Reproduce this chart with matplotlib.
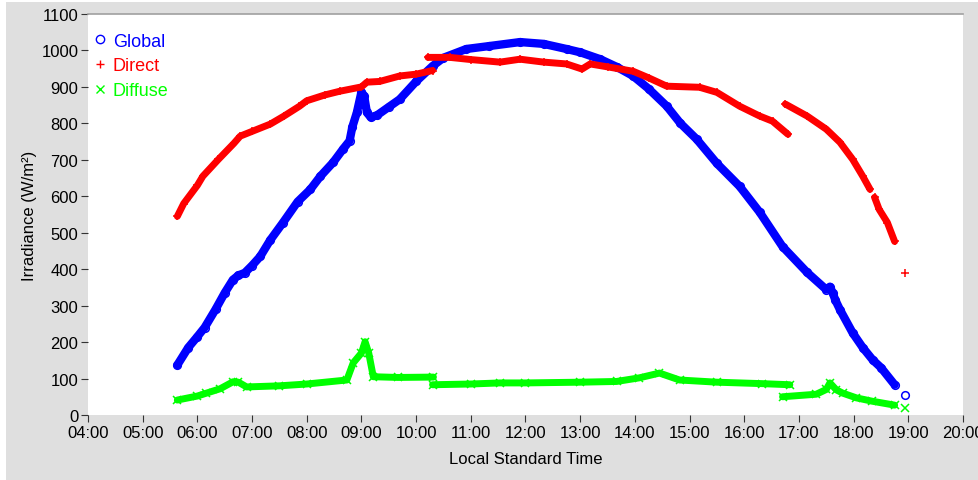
import numpy as np
import pandas as pd
import matplotlib
matplotlib.use("Agg")
import matplotlib.pyplot as plt
from matplotlib.lines import Line2D
from matplotlib.patches import Rectangle

# None marks a break in the record
global_times = ["05:38", "05:50", "06:00", "06:08", "06:20", "06:30", "06:39", "06:45",
                "06:52", "07:00", "07:09", "07:20", "07:34", "07:50", "08:04", "08:15",
                "08:29", "08:40", "08:47", "08:50", "08:55", "09:00", "09:03", "09:06",
                "09:10", "09:17", "09:30", "09:42", "10:00", "10:18", "10:30", "10:55",
                "11:20", "11:54", "12:20", "12:45", "13:00", "13:22", "13:40", "13:58",
                "14:15", "14:35", "14:50", "15:08", "15:30", "15:55", "16:17", "16:42",
                "17:09", "17:30", "17:34", "17:37", "17:40", "17:45", "17:59", "18:10",
                "18:21", "18:30", "18:45", None, "18:56"]
global_vals = [137, 185, 215, 240, 290, 335, 371, 383,
               390, 410, 435, 480, 528, 585, 619, 655,
               693, 730, 752, 790, 830, 886, 875, 830,
               817, 822, 845, 866, 915, 957, 980, 1004,
               1012, 1023, 1018, 1004, 995, 976, 955, 930,
               895, 847, 800, 756, 690, 627, 556, 462,
               391, 344, 352, 335, 315, 289, 225, 185,
               151, 130, 83, None, 55]

direct_times = ["05:38", "05:45", "06:00", "06:06", "06:23", "06:40", "06:47", "07:00",
                "07:20", "07:35", "07:52", "08:00", "08:20", "08:36", "09:00", "09:06",
                "09:20", "09:42", "10:00", "10:18", None,
                "10:13", "10:37", "11:00", "11:32", "11:54", "12:20", "12:45", "13:02",
                "13:11", "13:30", "13:58", "14:15", "14:35", "15:11", "15:30", "15:55",
                "16:17", "16:31", "16:48", None,
                "16:45", "17:09", "17:30", "17:45", "17:59", "18:10", "18:18", None,
                "18:23", "18:28", "18:37", "18:45", None, "18:56"]
direct_vals = [545, 580, 630, 655, 701, 745, 765, 778,
               798, 820, 847, 862, 878, 888, 900, 913,
               915, 930, 935, 945, None,
               981, 981, 975, 968, 976, 968, 963, 949,
               963, 955, 943, 925, 902, 899, 885, 847,
               820, 806, 770, None,
               853, 820, 784, 748, 701, 655, 619, None,
               597, 564, 528, 476, None, 390]

diffuse_times = ["05:38", "06:00", "06:10", "06:25", "06:39", "06:45", "06:54", "07:30",
                 "08:00", "08:44", "08:51", "09:00", "09:04", "09:08", "09:13", "09:40",
                 "10:19", None,
                 "10:18", "11:00", "11:32", "12:00", "13:00", "13:40", "14:05", "14:27",
                 "14:49", "15:30", "16:20", "16:50", None,
                 "16:42", "17:19", "17:30", "17:34", "17:41", "17:48", "18:03", "18:20",
                 "18:45", None, "18:56"]
diffuse_vals = [41, 52, 60, 72, 91, 90, 77, 80,
                85, 96, 143, 170, 201, 170, 105, 103,
                104, None,
                83, 85, 88, 88, 90, 92, 102, 115,
                96, 90, 86, 83, None,
                50, 57, 70, 88, 69, 60, 47, 38,
                27, None, 19]

hour_ticks = list(range(4, 21))
tick_labels = [f"{h:02d}:00" for h in hour_ticks]


def to_hours(times):
    return np.array([np.nan if t is None else
                     pd.to_timedelta(t + ":00").total_seconds() / 3600 for t in times])


def to_vals(vals):
    return np.array([np.nan if v is None else v for v in vals], dtype=float)


plt.rcParams["font.family"] = ["Liberation Sans", "DejaVu Sans"]

fig = plt.figure(figsize=(9.79, 4.81), dpi=100)
fig.patch.set_facecolor("white")
fig.patches.append(Rectangle((6 / 979, 0), 1, 1 - 3 / 481, transform=fig.transFigure,
                             facecolor="#dfdfdf", edgecolor="none", zorder=-10))
ax = fig.add_axes([88 / 979, 1 - 416 / 481, 875 / 979, 401 / 481])
ax.set_facecolor("white")

series = [
    ("Global", global_times, global_vals, "#0000ff", "o", 6.0),
    ("Direct", direct_times, direct_vals, "#ff0000", "+", 5.0),
    ("Diffuse", diffuse_times, diffuse_vals, "#00ff00", "x", 5.0),
]
handles = []
for name, times, vals, colour, marker, lw in series:
    ax.plot(to_hours(times), to_vals(vals), color=colour, linewidth=lw,
            solid_capstyle="round", solid_joinstyle="round")
    ax.plot(to_hours(times), to_vals(vals), linestyle="none", marker=marker,
            markersize=5.5, markerfacecolor="none", markeredgecolor=colour,
            markeredgewidth=1.1)
    handles.append(Line2D([], [], linestyle="none", marker=marker, markersize=6,
                          markerfacecolor="none", markeredgecolor=colour,
                          markeredgewidth=1.0, label=name))

ax.set_xlim(4, 20)
ax.set_ylim(0, 1100)
ax.set_xticks(hour_ticks)
ax.set_xticklabels(tick_labels)
ax.set_yticks(range(0, 1101, 100))

for side in ["left", "right", "bottom"]:
    ax.spines[side].set_visible(False)
ax.spines["top"].set_color("#a0a0a0")
ax.spines["top"].set_linewidth(1.2)
ax.tick_params(direction="out", length=5, width=0.8, color="#333333",
               labelsize=12, pad=2)

ax.set_xlabel("Local Standard Time", fontsize=12, labelpad=8)
ax.set_ylabel("Irradiance (W/m²)", fontsize=12, labelpad=3)

ax.legend(handles=handles, loc="upper left", bbox_to_anchor=(-0.013, 0.985),
          frameon=False, fontsize=13, handletextpad=0.1, handlelength=1.2,
          labelspacing=0.42, borderaxespad=0.3,
          labelcolor=["#0000ff", "#ff0000", "#00ff00"])

fig.savefig("out.png", dpi=100, facecolor=fig.get_facecolor())
